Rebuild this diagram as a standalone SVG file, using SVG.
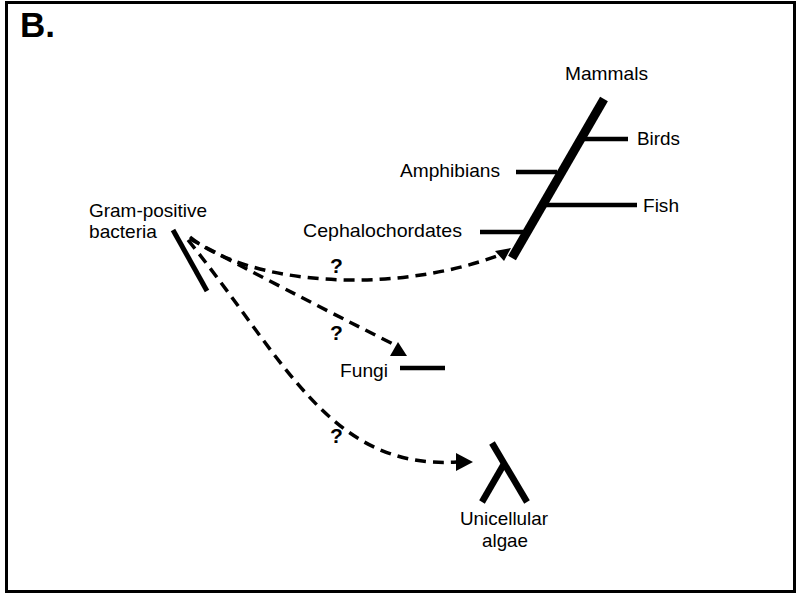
<svg xmlns="http://www.w3.org/2000/svg" width="802" height="597" viewBox="0 0 802 597">
<style>
text{font-family:"Liberation Sans",Arial,sans-serif;font-size:18.5px;fill:#000}
.q{font-weight:bold;font-size:21px}
.br{stroke:#000;stroke-width:4.5;stroke-linecap:butt;fill:none}
.dash{stroke:#000;stroke-width:3.5;fill:none;stroke-dasharray:11 7}
.head{fill:#000}
</style>
<rect x="0" y="0" width="802" height="597" fill="#fff"/>
<rect x="6.5" y="2.5" width="788" height="589" fill="none" stroke="#000" stroke-width="3"/>
<text x="20" y="37" style="font-size:35px;font-weight:bold">B.</text>

<g id="vertebrates">
<line x1="512" y1="258" x2="604" y2="99" stroke="#000" stroke-width="9"/>
<line class="br" x1="583" y1="139" x2="628" y2="139"/>
<line class="br" x1="546" y1="205" x2="637" y2="205"/>
<line class="br" x1="516" y1="172" x2="557" y2="172" stroke="#333"/>
<line class="br" x1="480" y1="232" x2="523" y2="232"/>
<text x="565" y="80" textLength="83" lengthAdjust="spacingAndGlyphs">Mammals</text>
<text x="637" y="145" textLength="43" lengthAdjust="spacingAndGlyphs">Birds</text>
<text x="643" y="212" textLength="36" lengthAdjust="spacingAndGlyphs">Fish</text>
<text x="400" y="177" textLength="100" lengthAdjust="spacingAndGlyphs">Amphibians</text>
<text x="303" y="237" textLength="159" lengthAdjust="spacingAndGlyphs">Cephalochordates</text>
</g>

<g id="bacteria">
<line x1="173" y1="230" x2="207" y2="291" stroke="#000" stroke-width="5"/>
<text x="89" y="217" textLength="118" lengthAdjust="spacingAndGlyphs">Gram-positive</text>
<text x="89" y="238" textLength="68" lengthAdjust="spacingAndGlyphs">bacteria</text>
</g>

<g id="fungi">
<line class="br" x1="400" y1="368" x2="445" y2="368"/>
<text x="340" y="377" textLength="48" lengthAdjust="spacingAndGlyphs">Fungi</text>
</g>

<g id="algae">
<line x1="492" y1="443" x2="527" y2="502" stroke="#000" stroke-width="6.5"/>
<line x1="504" y1="464" x2="482" y2="502" stroke="#000" stroke-width="6.5"/>
<text x="460" y="525" textLength="88" lengthAdjust="spacingAndGlyphs">Unicellular</text>
<text x="482" y="547" textLength="46" lengthAdjust="spacingAndGlyphs">algae</text>
</g>

<g id="connectors">
<path class="dash" d="M190,237 C250,285 390,295 497,256"/>
<polygon class="head" points="495,251 504,261 511,248"/>
<path class="dash" d="M190,239 Q280,287 393,344"/>
<polygon class="head" points="390,356 407,356 398,342"/>
<path class="dash" d="M188,240 C285,360 330,470 457,462"/>
<polygon class="head" points="456,453 456,471 473,462"/>
<text class="q" x="330" y="273">?</text>
<text class="q" x="330" y="340">?</text>
<text class="q" x="330" y="443">?</text>
</g>
</svg>
